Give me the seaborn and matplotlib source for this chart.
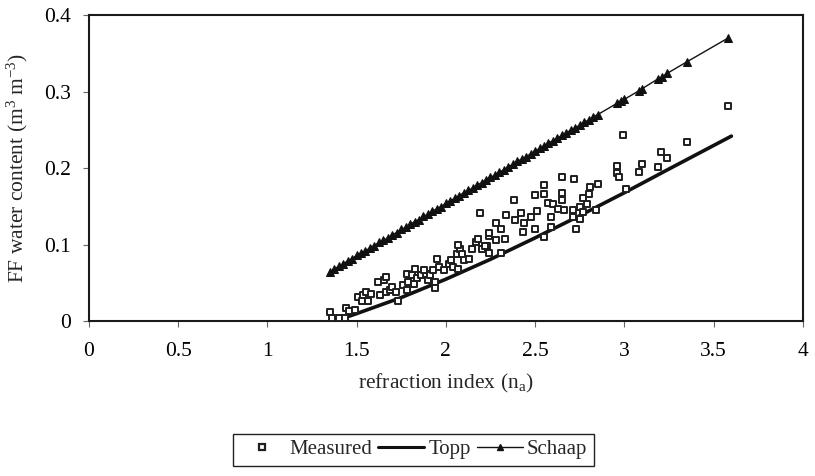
import matplotlib
matplotlib.use("Agg")
import matplotlib.pyplot as plt
import seaborn as sns
import pandas as pd
from matplotlib.lines import Line2D

# ---- data ----
measured_x = [1.35, 1.36, 1.40, 1.435, 1.44, 1.46, 1.49, 1.51, 1.535, 1.555, 1.58, 1.53, 1.564,
              1.62, 1.655, 1.665, 1.63, 1.665, 1.69, 1.70, 1.72, 1.73, 1.76, 1.78, 1.785, 1.81,
              1.79, 1.82, 1.84, 1.86, 1.89, 1.90, 1.91, 1.93, 1.94, 1.96, 1.99, 2.02, 2.03, 1.94,
              2.04, 2.07, 2.06, 2.08, 2.07, 2.09, 2.10, 2.13, 2.17, 2.18, 2.20, 2.23, 2.24,
              1.83, 1.88, 1.95, 2.145, 2.22, 2.24, 2.31, 2.24, 2.28, 2.33, 2.28, 2.31, 2.19,
              2.34, 2.42, 2.51, 2.59, 2.48, 2.39, 2.44, 2.43, 2.50, 2.55, 2.59, 2.38, 2.57,
              2.60, 2.63, 2.66, 2.71, 2.75, 2.84, 2.77, 2.75, 2.71, 2.73, 2.50, 2.55, 2.65,
              2.65, 2.80, 2.77, 2.79, 2.55, 2.65, 2.72, 2.85, 2.81, 2.96, 2.96, 2.97, 3.01,
              3.08, 3.10, 3.19, 3.205, 3.24, 3.35, 2.99, 3.58]
measured_y = [0.012, 0.004, 0.004, 0.004, 0.017, 0.014, 0.015, 0.032, 0.034, 0.038, 0.036, 0.027, 0.027,
              0.051, 0.054, 0.058, 0.034, 0.038, 0.041, 0.045, 0.038, 0.027, 0.047, 0.041, 0.062, 0.060,
              0.051, 0.049, 0.056, 0.060, 0.062, 0.054, 0.060, 0.067, 0.051, 0.071, 0.067, 0.075, 0.080, 0.043,
              0.071, 0.069, 0.088, 0.095, 0.100, 0.088, 0.080, 0.082, 0.104, 0.108, 0.095, 0.099, 0.112,
              0.068, 0.067, 0.081, 0.095, 0.098, 0.089, 0.089, 0.115, 0.106, 0.108, 0.128, 0.121, 0.142,
              0.139, 0.142, 0.144, 0.136, 0.136, 0.132, 0.128, 0.117, 0.120, 0.110, 0.123, 0.158, 0.155,
              0.153, 0.147, 0.146, 0.146, 0.149, 0.145, 0.143, 0.134, 0.136, 0.121, 0.165, 0.166, 0.168,
              0.158, 0.166, 0.161, 0.153, 0.178, 0.189, 0.186, 0.179, 0.176, 0.203, 0.194, 0.189, 0.173,
              0.195, 0.206, 0.202, 0.221, 0.213, 0.234, 0.244, 0.281]

topp_x = [1.40, 1.50, 1.75, 2.00, 2.25, 2.50, 2.75, 3.00, 3.25, 3.60]
topp_y = [0.002, 0.010, 0.031, 0.055, 0.081, 0.109, 0.138, 0.168, 0.199, 0.242]

schaap_x = [1.35, 1.375, 1.40, 1.425, 1.45, 1.475, 1.50, 1.525, 1.55, 1.575, 1.60, 1.625, 1.65,
            1.675, 1.70, 1.725, 1.75, 1.775, 1.80, 1.825, 1.85, 1.875, 1.90, 1.925, 1.95, 1.975,
            2.00, 2.025, 2.05, 2.075, 2.10, 2.125, 2.15, 2.175, 2.20, 2.225, 2.25, 2.275, 2.30,
            2.325, 2.35, 2.375, 2.40, 2.425, 2.45, 2.475, 2.50, 2.525, 2.55, 2.575, 2.60, 2.625,
            2.65, 2.675, 2.70, 2.725, 2.75, 2.775, 2.80, 2.825, 2.85,
            2.96, 2.98, 3.00, 3.08, 3.10, 3.19, 3.21, 3.24, 3.35, 3.58]
schaap_y = [0.065, 0.068, 0.072, 0.075, 0.079, 0.082, 0.086, 0.089, 0.092, 0.096, 0.099, 0.103, 0.106,
            0.109, 0.113, 0.116, 0.120, 0.123, 0.127, 0.130, 0.133, 0.137, 0.140, 0.144, 0.147, 0.150,
            0.154, 0.157, 0.161, 0.164, 0.168, 0.171, 0.174, 0.178, 0.181, 0.185, 0.188, 0.191, 0.195,
            0.198, 0.202, 0.205, 0.209, 0.212, 0.215, 0.219, 0.222, 0.226, 0.229, 0.233, 0.236, 0.239,
            0.243, 0.246, 0.250, 0.253, 0.256, 0.260, 0.263, 0.267, 0.270,
            0.285, 0.288, 0.290, 0.301, 0.304, 0.317, 0.319, 0.324, 0.339, 0.370]

x_ticks = [0, 0.5, 1, 1.5, 2, 2.5, 3, 3.5, 4]
x_tick_labels = ["0", "0.5", "1", "1.5", "2", "2.5", "3", "3.5", "4"]
y_ticks = [0, 0.1, 0.2, 0.3, 0.4]
y_tick_labels = ["0", "0.1", "0.2", "0.3", "0.4"]

# ---- styling ----
sns.set_theme(style="white")
plt.rcParams["font.family"] = ["Liberation Serif", "DejaVu Serif"]
plt.rcParams["mathtext.default"] = "regular"

fig = plt.figure(figsize=(8.15, 4.76), dpi=100)
ax = fig.add_axes([0.109, 0.325, 0.876, 0.643])

df_m = pd.DataFrame({"x": measured_x, "y": measured_y})
df_t = pd.DataFrame({"x": topp_x, "y": topp_y})
df_s = pd.DataFrame({"x": schaap_x, "y": schaap_y})

sns.lineplot(data=df_s, x="x", y="y", ax=ax, color="#111111", linewidth=1.0,
             marker="^", markersize=6, markeredgecolor="#111111", markerfacecolor="#111111",
             sort=True, zorder=3)
sns.lineplot(data=df_t, x="x", y="y", ax=ax, color="#111111", linewidth=2.6, sort=True, zorder=4)
sns.scatterplot(data=df_m, x="x", y="y", ax=ax, marker="s", s=22, facecolor="white",
                edgecolor="#1e1e1e", linewidth=1.4, zorder=5)

ax.set_xlim(0, 4)
ax.set_ylim(0, 0.4)
ax.set_xticks(x_ticks)
ax.set_xticklabels(x_tick_labels)
ax.set_yticks(y_ticks)
ax.set_yticklabels(y_tick_labels)
ax.tick_params(axis="both", which="major", direction="out", length=4, width=0.8,
               colors="#666666", labelcolor="black", labelsize=15.5, pad=9,
               bottom=True, left=True)
ax.tick_params(axis="x", pad=11)
for sp in ax.spines.values():
    sp.set_color("#1a1a1a")
    sp.set_linewidth(1.5)
    sp.set_visible(True)

ax.set_xlabel("refraction index (n$_a$)", fontsize=15.5, labelpad=8)
ax.set_ylabel("FF water content (m$^3$ m$^{-3}$)", fontsize=15.5, labelpad=10)

handles = [
    Line2D([], [], linestyle="none", marker="s", markersize=5, markerfacecolor="white",
           markeredgecolor="#1e1e1e", markeredgewidth=1.6),
    Line2D([], [], color="#111111", linewidth=2.2),
    Line2D([], [], color="#111111", linewidth=1.0, marker="^", markersize=5,
           markerfacecolor="#111111", markeredgecolor="#111111"),
]
leg = fig.legend(handles, ["Measured", "Topp", "Schaap"], loc="lower center",
                 bbox_to_anchor=(0.507, 0.0), ncol=3, fontsize=15, frameon=True,
                 fancybox=False, edgecolor="#222222", framealpha=1, handlelength=2.2,
                 handletextpad=0.2, columnspacing=0.3, borderpad=0.3)
leg.get_frame().set_linewidth(1.0)

fig.savefig("out.png", dpi=100)
